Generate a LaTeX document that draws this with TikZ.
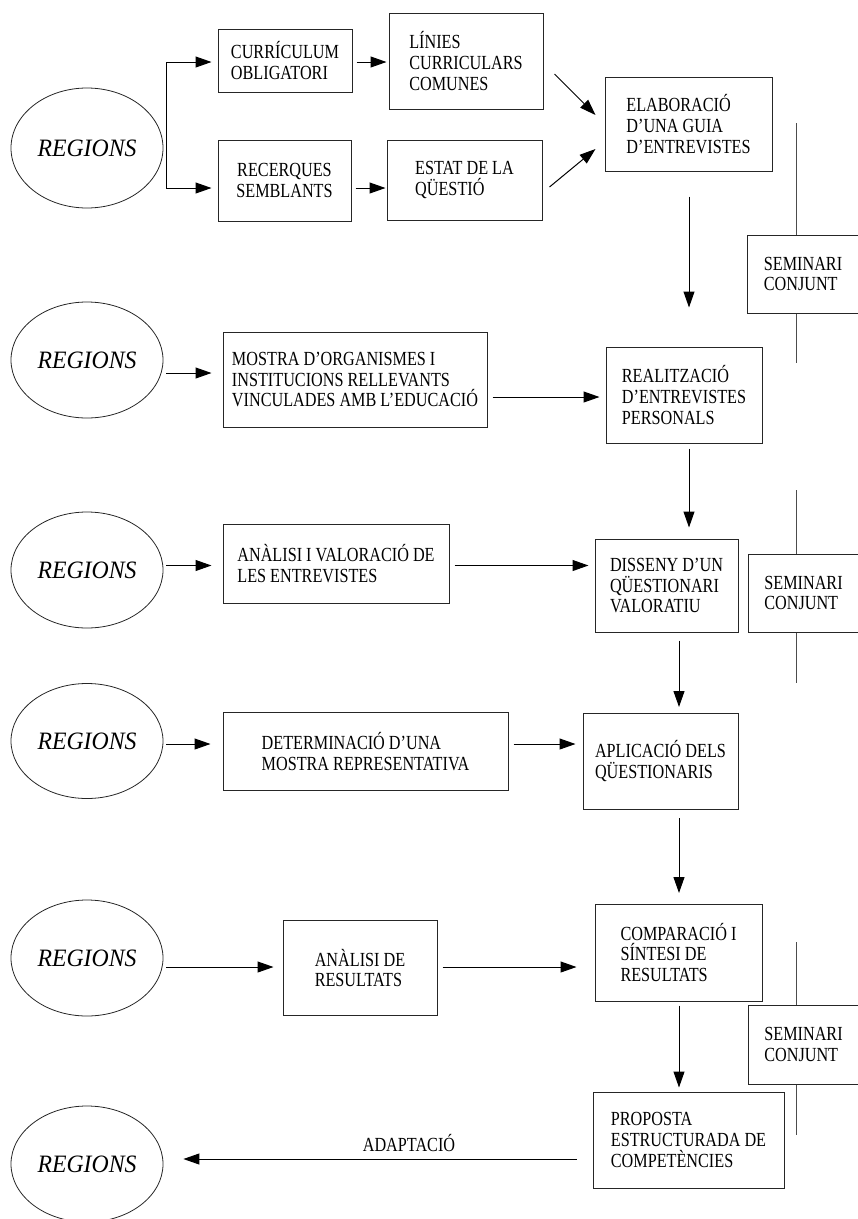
\documentclass[tikz,border=0pt]{standalone}
\usepackage{fontspec}
\setmainfont{Liberation Serif}[FakeStretch=0.81]
\newfontfamily\regfont{Liberation Serif}[FakeStretch=0.95]
\usetikzlibrary{arrows.meta,calc,shapes.geometric}
\begin{document}
\begin{tikzpicture}[x=1pt,y=-1pt,
 box/.style={draw=black!85, line width=1pt, inner sep=0pt, align=left, font=\fontsize{20}{20.7}\selectfont},
 reg/.style={draw=black!85, line width=0.8pt, ellipse, inner sep=0pt, minimum width=152pt, font=\regfont\itshape\fontsize{25}{25}\selectfont},
 arr/.style={line width=1pt, -{Triangle[length=16pt,width=11pt]}},
 vline/.style={draw=black!70, line width=1pt},
 lbl/.style={inner sep=0pt, font=\fontsize{20}{20.7}\selectfont}]
\useasboundingbox (0,0) rectangle (858,1219);
% ellipses
\node[reg, minimum height=120pt] (e1) at (87,148) {REGIONS};
\node[reg, minimum height=116pt] (e2) at (87,360) {REGIONS};
\node[reg, minimum height=116pt] (e3) at (87,570) {REGIONS};
\node[reg, minimum height=115pt] (e4) at (87,741) {REGIONS};
\node[reg, minimum height=116pt] (e5) at (87,958) {REGIONS};
\node[reg, minimum height=116pt] (e6) at (87,1164) {REGIONS};
% boxes
\node[box, minimum width=134pt, minimum height=63pt] (cur) at (285,60.5) {CURRÍCULUM\\OBLIGATORI};
\node[box, minimum width=154pt, minimum height=96pt] (lin) at (466,61) {LÍNIES\\CURRICULARS\\COMUNES};
\node[box, align=center, minimum width=133pt, minimum height=81pt] (rec) at (284.5,180.5) {RECERQUES\\SEMBLANTS};
\node[box, minimum width=155pt, minimum height=80pt] (est) at (464.5,180) {ESTAT DE LA\\QÜESTIÓ};
\node[box, minimum width=167pt, minimum height=94pt] (ela) at (688.5,124) {ELABORACIÓ\\D’UNA GUIA\\D’ENTREVISTES};
\node[box, minimum width=112pt, minimum height=78pt] (sem1) at (803,274) {SEMINARI\\CONJUNT};
\node[box, minimum width=264pt, minimum height=95pt] (mos) at (355,379.5) {MOSTRA D’ORGANISMES I\\INSTITUCIONS RELLEVANTS\\VINCULADES AMB L’EDUCACIÓ};
\node[box, minimum width=156pt, minimum height=96pt] (rea) at (684,395) {REALITZACIÓ\\D’ENTREVISTES\\PERSONALS};
\node[box, minimum width=226pt, minimum height=79pt] (ana1) at (336,563.5) {ANÀLISI I VALORACIÓ DE\\LES ENTREVISTES};
\node[box, minimum width=143pt, minimum height=93pt] (dis) at (666.5,585.5) {DISSENY D’UN\\QÜESTIONARI\\VALORATIU};
\node[box, minimum width=111pt, minimum height=78pt] (sem2) at (803.5,593) {SEMINARI\\CONJUNT};
\node[box, minimum width=285pt, minimum height=78pt] (det) at (365.5,751.7) {DETERMINACIÓ D’UNA\\MOSTRA REPRESENTATIVA};
\node[box, minimum width=155pt, minimum height=96pt] (apl) at (660.5,761) {APLICACIÓ DELS\\QÜESTIONARIS};
\node[box, minimum width=154pt, minimum height=95pt] (ana2) at (360,968) {ANÀLISI DE\\RESULTATS};
\node[box, minimum width=167pt, minimum height=97pt] (com) at (678.5,952.5) {COMPARACIÓ I\\SÍNTESI DE\\RESULTATS};
\node[box, minimum width=111pt, minimum height=79pt] (sem3) at (803.5,1044.5) {SEMINARI\\CONJUNT};
\node[box, minimum width=191pt, minimum height=96pt] (pro) at (688.5,1140) {PROPOSTA\\ESTRUCTURADA DE\\COMPETÈNCIES};
\node[lbl] (adl) at (409,1143) {ADAPTACIÓ};
% fork from first REGIONS
\coordinate (f1) at ($(e1.east)+(3,-86)$);
\coordinate (f2) at ($(e1.east)+(3,40)$);
\draw[line width=1pt] (f1) -- (f2);
\draw[arr] (f1) -- ($(cur.west |- f1)+(-6,0)$);
\draw[arr] (f2) -- ($(rec.west |- f2)+(-6,0)$);
\draw[arr] ($(cur.east |- f1)+(4,0)$) -- ($(lin.west |- f1)+(-2,0)$);
\draw[arr] ($(rec.east |- f2)+(4,0)$) -- ($(est.west |- f2)+(-1,0)$);
\draw[arr] ($(lin.east)+(11,13)$) -- ($(ela.west)+(-9,-9)$);
\draw[arr] ($(est.east)+(7,7)$) -- ($(ela.west)+(-9,25)$);
\draw[arr] ($(ela.south)+(0.5,25)$) -- ($(rea.north)+(5,-39)$);
% row 2
\draw[arr] ($(e2.east)+(3,13)$) -- ($(mos.west)+(-11,-6.5)$);
\draw[arr] ($(mos.east)+(5,17.5)$) -- ($(rea.west)+(-6,2)$);
\draw[arr] ($(rea.south)+(5,5)$) -- ($(dis.north)+(22.5,-11)$);
% row 3
\draw[arr] ($(e3.east)+(3,-4.5)$) -- ($(ana1.west)+(-11,2)$);
\draw[arr] ($(ana1.east)+(5,2)$) -- ($(dis.west)+(-6,-20)$);
\draw[arr] ($(dis.south)+(12.5,8)$) -- ($(apl.north)+(18.5,-5.5)$);
% row 4
\draw[arr] ($(e4.east)+(3,3)$) -- ($(det.west)+(-12,-7.7)$);
\draw[arr] ($(det.east)+(5,-7.7)$) -- ($(apl.west)+(-7,-17)$);
\draw[arr] ($(apl.south)+(18.5,8.5)$) -- ($(com.north)+(0.5,-10.5)$);
% row 5
\draw[arr] ($(e5.east)+(3,9)$) -- ($(ana2.west)+(-9,-1)$);
\draw[arr] ($(ana2.east)+(5,-1)$) -- ($(com.west)+(-18,14.5)$);
\draw[arr] ($(com.south)+(0.5,4)$) -- ($(pro.north)+(-9.5,-4)$);
% row 6
\draw[arr] ($(pro.west)+(-16,19)$) -- ($(e6.east)+(20,-5)$);
% seminari lines
\coordinate (s1) at (796,123);
\draw[vline] (s1) -- (s1 |- sem1.north);
\draw[vline] (s1 |- sem1.south) -- ++(0,49);
\coordinate (s2) at (796,490);
\draw[vline] (s2) -- (s2 |- sem2.north);
\draw[vline] (s2 |- sem2.south) -- ++(0,50);
\coordinate (s3) at (796,942);
\draw[vline] (s3) -- (s3 |- sem3.north);
\draw[vline] (s3 |- sem3.south) -- ++(0,50);
\end{tikzpicture}
\end{document}
